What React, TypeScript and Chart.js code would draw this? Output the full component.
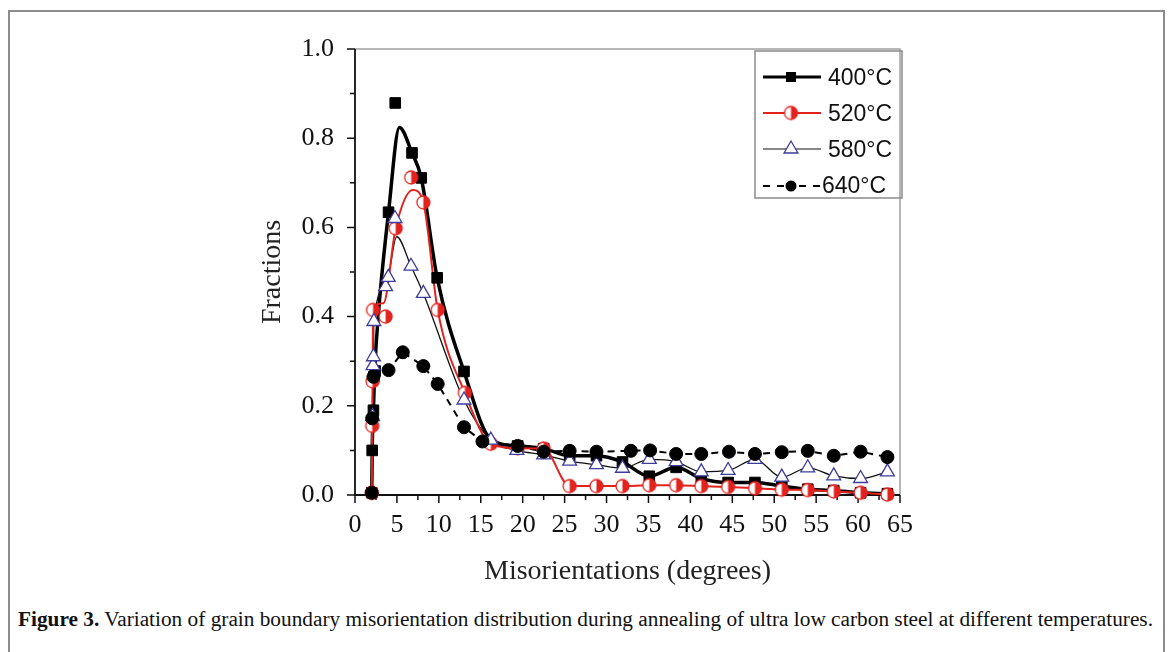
import React, { useEffect, useRef } from "react";
import { Chart, registerables } from "chart.js";

Chart.register(...registerables);

// ---------- axis ticks ----------
const xTickValues = [0, 5, 10, 15, 20, 25, 30, 35, 40, 45, 50, 55, 60, 65];
const yTickValues = [0, 0.2, 0.4, 0.6, 0.8, 1.0];
const xMinorTicks = [2.5, 7.5, 12.5, 17.5, 22.5, 27.5, 32.5, 37.5, 42.5, 47.5, 52.5, 57.5, 62.5];
const yMinorTicks = [0.1, 0.3, 0.5, 0.7, 0.9];

const seriesLabels = ["400°C", "520°C", "580°C", "640°C"];

// ---------- 400 °C (markers) ----------
const x400 = [2.0, 2.05, 2.2, 2.25, 2.4, 4.0, 4.8, 6.8, 7.9, 9.8, 13.0, 19.4, 22.5, 25.6, 28.8, 31.9, 35.1, 38.3, 41.3, 44.5, 47.7, 50.9, 54.0, 57.1, 60.3, 63.5];
const y400 = [0.005, 0.1, 0.19, 0.265, 0.278, 0.634, 0.879, 0.767, 0.711, 0.487, 0.277, 0.11, 0.104, 0.088, 0.088, 0.074, 0.042, 0.062, 0.037, 0.028, 0.028, 0.02, 0.013, 0.01, 0.005, 0.003];
// 400 °C fitted curve
const c400x = [2.0, 2.05, 2.2, 2.35, 2.9, 4.0, 5.3, 6.8, 7.9, 9.8, 13.0, 16.2, 19.4, 22.5, 25.6, 28.8, 31.9, 35.1, 38.3, 41.3, 44.5, 47.7, 50.9, 54.0, 57.1, 60.3, 63.5];
const c400y = [0.005, 0.1, 0.19, 0.278, 0.43, 0.634, 0.824, 0.767, 0.711, 0.487, 0.277, 0.125, 0.11, 0.104, 0.088, 0.088, 0.074, 0.042, 0.062, 0.037, 0.028, 0.028, 0.02, 0.013, 0.01, 0.005, 0.003];

// ---------- 520 °C ----------
const x520 = [2.0, 2.05, 2.1, 2.15, 3.65, 4.85, 6.7, 8.15, 9.86, 13.1, 16.2, 19.4, 22.5, 25.6, 28.8, 31.9, 35.1, 38.3, 41.3, 44.5, 47.7, 50.9, 54.0, 57.1, 60.3, 63.5];
const y520 = [0.005, 0.155, 0.255, 0.415, 0.4, 0.598, 0.712, 0.656, 0.415, 0.229, 0.115, 0.105, 0.104, 0.02, 0.02, 0.02, 0.022, 0.022, 0.02, 0.018, 0.015, 0.012, 0.011, 0.008, 0.005, 0.001];
const c520x = [2.0, 2.05, 2.1, 2.15, 3.4, 4.85, 6.9, 8.15, 9.86, 13.1, 16.2, 19.4, 22.5, 25.6, 28.8, 31.9, 35.1, 38.3, 41.3, 44.5, 47.7, 50.9, 54.0, 57.1, 60.3, 63.5];
const c520y = [0.005, 0.155, 0.255, 0.415, 0.43, 0.598, 0.684, 0.656, 0.415, 0.229, 0.115, 0.105, 0.104, 0.02, 0.02, 0.02, 0.022, 0.022, 0.02, 0.018, 0.015, 0.012, 0.011, 0.008, 0.005, 0.001];

// ---------- 580 °C ----------
const x580 = [2.1, 2.15, 2.2, 2.25, 3.65, 3.97, 4.77, 6.68, 8.15, 13.0, 16.2, 19.3, 22.5, 25.6, 28.8, 31.9, 35.1, 38.3, 41.3, 44.5, 47.7, 50.9, 54.0, 57.1, 60.3, 63.5];
const y580 = [0.176, 0.29, 0.31, 0.389, 0.467, 0.488, 0.62, 0.513, 0.452, 0.213, 0.123, 0.1, 0.09, 0.076, 0.068, 0.06, 0.08, 0.075, 0.052, 0.055, 0.08, 0.04, 0.061, 0.043, 0.037, 0.052];
const c580x = [2.0, 2.1, 2.2, 2.25, 3.65, 3.97, 4.97, 6.68, 8.15, 13.0, 16.2, 19.3, 22.5, 25.6, 28.8, 31.9, 35.1, 38.3, 41.3, 44.5, 47.7, 50.9, 54.0, 57.1, 60.3, 63.5];
const c580y = [0.005, 0.176, 0.31, 0.389, 0.467, 0.488, 0.579, 0.513, 0.452, 0.213, 0.123, 0.1, 0.09, 0.076, 0.068, 0.06, 0.08, 0.075, 0.052, 0.055, 0.08, 0.04, 0.061, 0.043, 0.037, 0.052];

// ---------- 640 °C ----------
const x640 = [2.0, 2.05, 2.2, 4.0, 5.7, 8.15, 9.86, 13.0, 15.2, 19.4, 22.5, 25.6, 28.8, 32.9, 35.2, 38.3, 41.3, 44.6, 47.7, 50.9, 54.0, 57.1, 60.3, 63.5];
const y640 = [0.005, 0.172, 0.265, 0.28, 0.32, 0.289, 0.249, 0.152, 0.12, 0.11, 0.097, 0.099, 0.097, 0.099, 0.1, 0.092, 0.092, 0.097, 0.092, 0.096, 0.099, 0.088, 0.097, 0.085];

const RED = "#e3221e";
const NAVY = "#3c3c9c";

const pts = (xs: number[], ys: number[]) => xs.map((x, i) => ({ x, y: ys[i] }));

function makeHalfCircle(r: number) {
  const c = document.createElement("canvas");
  const s = Math.ceil(r * 2 + 4);
  c.width = s;
  c.height = s;
  const ctx = c.getContext("2d")!;
  const cx = s / 2;
  const cy = s / 2;
  ctx.beginPath();
  ctx.arc(cx, cy, r, 0, Math.PI * 2);
  ctx.fillStyle = "#fff";
  ctx.fill();
  ctx.beginPath();
  ctx.moveTo(cx, cy - r);
  ctx.arc(cx, cy, r, -Math.PI / 2, Math.PI / 2);
  ctx.closePath();
  ctx.fillStyle = RED;
  ctx.fill();
  ctx.beginPath();
  ctx.arc(cx, cy, r, 0, Math.PI * 2);
  ctx.strokeStyle = RED;
  ctx.lineWidth = 1.3;
  ctx.stroke();
  return c;
}

export default function App() {
  const ref = useRef<HTMLCanvasElement>(null);

  useEffect(() => {
    const canvas = ref.current!;
    const half = makeHalfCircle(6.5);

    const curve = (data: any, color: string, width: number, order: number, dash: number[] = [], tension = true) => ({
      type: "line",
      data,
      borderColor: color,
      borderWidth: width,
      borderDash: dash,
      pointRadius: 0,
      pointHoverRadius: 0,
      fill: false,
      cubicInterpolationMode: tension ? "monotone" : "default",
      tension: 0,
      clip: false,
      order,
    });
    const markers = (data: any, style: any, radius: number, bg: string, border: string, bw: number, order: number) => ({
      type: "line",
      data,
      showLine: false,
      pointStyle: style,
      pointRadius: radius,
      pointHoverRadius: radius,
      pointBackgroundColor: bg,
      pointBorderColor: border,
      pointBorderWidth: bw,
      clip: false,
      order,
    });

    const decor = {
      id: "decor",
      beforeDatasetsDraw(chart: any) {
        const { ctx, chartArea: a, scales } = chart;
        const xs = scales.x;
        const ys = scales.y;
        ctx.save();
        ctx.strokeStyle = "#a0a0a0";
        ctx.lineWidth = 1.5;
        ctx.beginPath();
        ctx.moveTo(a.left, a.top);
        ctx.lineTo(a.right, a.top);
        ctx.lineTo(a.right, a.bottom);
        ctx.stroke();

        ctx.strokeStyle = "#111";
        ctx.lineWidth = 1.8;
        ctx.beginPath();
        ctx.moveTo(a.left, a.top);
        ctx.lineTo(a.left, a.bottom);
        ctx.lineTo(a.right, a.bottom);
        ctx.stroke();

        ctx.lineWidth = 1.5;
        ctx.beginPath();
        xTickValues.forEach((v) => {
          const px = xs.getPixelForValue(v);
          ctx.moveTo(px, a.bottom);
          ctx.lineTo(px, a.bottom + 8);
        });
        xMinorTicks.forEach((v) => {
          const px = xs.getPixelForValue(v);
          ctx.moveTo(px, a.bottom);
          ctx.lineTo(px, a.bottom + 5);
        });
        yTickValues.forEach((v) => {
          const py = ys.getPixelForValue(v);
          ctx.moveTo(a.left, py);
          ctx.lineTo(a.left - 8, py);
        });
        yMinorTicks.forEach((v) => {
          const py = ys.getPixelForValue(v);
          ctx.moveTo(a.left, py);
          ctx.lineTo(a.left - 5, py);
        });
        ctx.stroke();

        ctx.fillStyle = "#222";
        ctx.font = '28px "Liberation Serif"';
        ctx.textAlign = "center";
        ctx.textBaseline = "middle";
        ctx.fillText("Misorientations (degrees)", (a.left + a.right) / 2, 572);
        ctx.save();
        ctx.translate(273, (a.top + a.bottom) / 2);
        ctx.rotate(-Math.PI / 2);
        ctx.fillText("Fractions", 0, 0);
        ctx.restore();
        ctx.restore();
      },
      afterDraw(chart: any) {
        const { ctx } = chart;
        ctx.save();
        // legend box
        ctx.strokeStyle = "#8a8a8a";
        ctx.lineWidth = 1.5;
        ctx.strokeRect(755, 51, 147, 147);
        const lx0 = 763;
        const lx1 = 821;
        const mx = 791;
        const tx = 828;
        const rows = [77, 113, 149, 186];
        ctx.font = '23px "Liberation Sans"';
        ctx.textBaseline = "middle";
        ctx.textAlign = "left";
        ctx.fillStyle = "#111";

        // 400
        ctx.strokeStyle = "#000";
        ctx.lineWidth = 3;
        ctx.beginPath();
        ctx.moveTo(lx0, rows[0]);
        ctx.lineTo(lx1, rows[0]);
        ctx.stroke();
        ctx.fillStyle = "#000";
        ctx.fillRect(mx - 5, rows[0] - 5, 10, 10);
        // 520
        ctx.strokeStyle = RED;
        ctx.lineWidth = 1.8;
        ctx.beginPath();
        ctx.moveTo(lx0, rows[1]);
        ctx.lineTo(lx1, rows[1]);
        ctx.stroke();
        ctx.drawImage(half, mx - half.width / 2, rows[1] - half.height / 2);
        // 580
        ctx.strokeStyle = "#111";
        ctx.lineWidth = 1.2;
        ctx.beginPath();
        ctx.moveTo(lx0, rows[2]);
        ctx.lineTo(lx1, rows[2]);
        ctx.stroke();
        const r = 8;
        ctx.beginPath();
        ctx.moveTo(mx, rows[2] - r);
        ctx.lineTo(mx + r * 0.866, rows[2] + r / 2);
        ctx.lineTo(mx - r * 0.866, rows[2] + r / 2);
        ctx.closePath();
        ctx.fillStyle = "#fff";
        ctx.fill();
        ctx.strokeStyle = NAVY;
        ctx.lineWidth = 1.3;
        ctx.stroke();
        // 640
        ctx.strokeStyle = "#000";
        ctx.lineWidth = 2;
        ctx.beginPath();
        [[763, 770], [777, 784], [799, 806], [813, 820]].forEach(([a, b]) => {
          ctx.moveTo(a, rows[3]);
          ctx.lineTo(b, rows[3]);
        });
        ctx.stroke();
        ctx.beginPath();
        ctx.arc(mx, rows[3], 5.5, 0, Math.PI * 2);
        ctx.fillStyle = "#000";
        ctx.fill();

        ctx.fillStyle = "#111";
        ctx.fillText(seriesLabels[0], tx, rows[0] + 2);
        ctx.fillText(seriesLabels[1], tx, rows[1] + 2);
        ctx.fillText(seriesLabels[2], tx, rows[2] + 2);
        ctx.fillText(seriesLabels[3], 822, rows[3] + 1);
        ctx.restore();
      },
    };

    const chart = new Chart(canvas, {
      type: "line",
      data: {
        datasets: [
          markers(pts(x640, y640), "circle", 6.5, "#000", "#000", 1, 0),
          markers(pts(x580, y580), "triangle", 8, "#fff", NAVY, 1.3, 1),
          markers(pts(x520, y520), half, 7, RED, RED, 1, 2),
          markers(pts(x400, y400), "rect", 7.5, "#000", "#000", 1, 3),
          curve(pts(c520x, c520y), RED, 2, 4),
          curve(pts(c580x, c580y), "#111", 1.3, 5),
          curve(pts(c400x, c400y), "#000", 3.5, 6),
          curve(pts(x640, y640), "#000", 2, 7, [7, 6], false),
        ] as any,
      },
      plugins: [decor as any],
      options: {
        responsive: false,
        animation: false,
        devicePixelRatio: 1,
        layout: { padding: { top: 49, right: 271, left: 0, bottom: 0 } },
        plugins: { legend: { display: false }, tooltip: { enabled: false } },
        events: [],
        scales: {
          x: {
            type: "linear",
            min: 0,
            max: 65,
            grid: { display: false, drawTicks: false },
            border: { display: false },
            ticks: {
              stepSize: 5,
              padding: 15,
              color: "#111",
              font: { family: "Liberation Serif", size: 26 },
              callback: (v: any) => String(v),
              maxRotation: 0,
              autoSkip: false,
            },
            afterFit: (s: any) => {
              s.height = 105;
            },
          },
          y: {
            type: "linear",
            min: 0,
            max: 1,
            grid: { display: false, drawTicks: false },
            border: { display: false },
            ticks: {
              stepSize: 0.2,
              padding: 21,
              color: "#111",
              font: { family: "Liberation Serif", size: 26 },
              callback: (v: any) => Number(v).toFixed(1),
            },
            afterFit: (s: any) => {
              s.width = 355;
            },
          },
        },
      } as any,
    });
    return () => chart.destroy();
  }, []);

  return (
    <div style={{ position: "absolute", left: 0, top: 0, width: 1171, height: 652, overflow: "hidden", background: "#fff" }}>
      <div
        style={{
          position: "absolute",
          left: 8,
          top: 10,
          width: 1157,
          height: 642,
          border: "2px solid #8c8c8c",
          borderBottom: "none",
          boxSizing: "border-box",
        }}
      />
      <canvas ref={ref} width={1171} height={600} style={{ position: "absolute", left: 0, top: 0, width: 1171, height: 600 }} />
      <div
        style={{
          position: "absolute",
          left: 18,
          top: 607,
          fontFamily: '"Liberation Serif", serif',
          fontSize: 21.3,
          whiteSpace: "nowrap",
          color: "#111",
        }}
      >
        <b>Figure 3.</b> Variation of grain boundary misorientation distribution during annealing of ultra low carbon steel at different temperatures.
      </div>
    </div>
  );
}
